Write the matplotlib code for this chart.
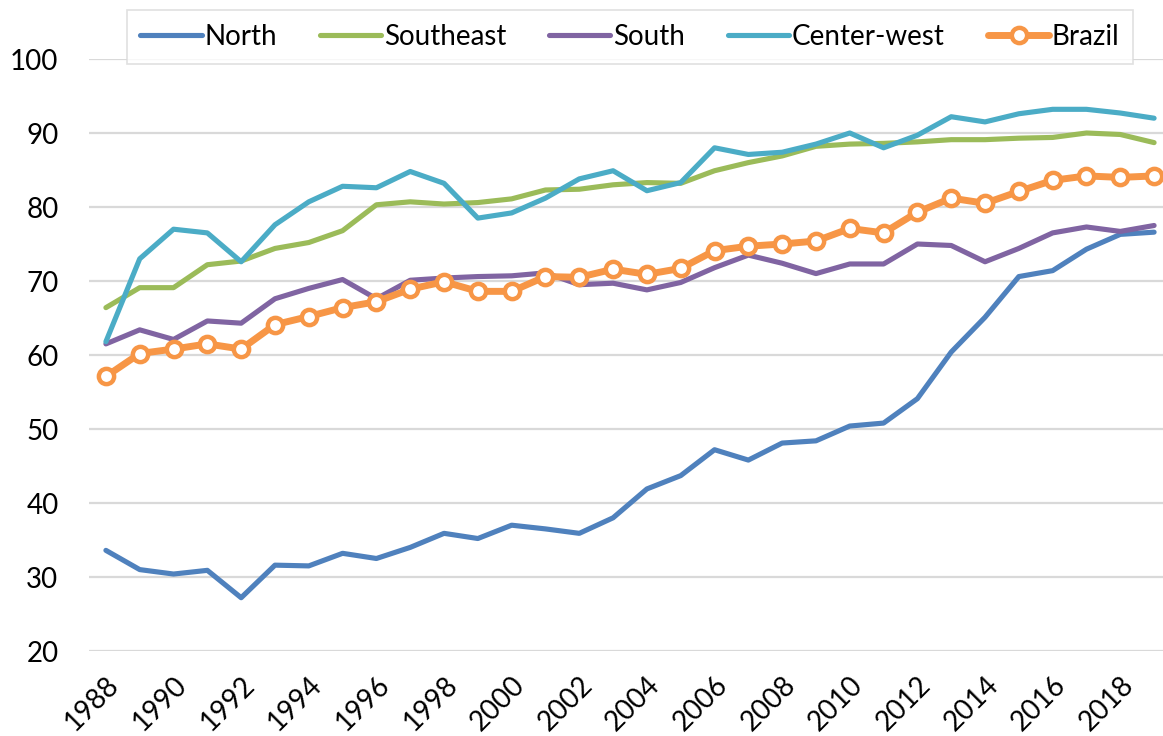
import matplotlib
matplotlib.use("Agg")
from matplotlib import pyplot as plt

plt.rcParams['font.family'] = ['Lato', 'DejaVu Sans']

years = list(range(1988, 2020))

north = [33.6, 31.0, 30.4, 30.9, 27.2, 31.6, 31.5, 33.2, 32.5, 34.0, 35.9, 35.2,
         37.0, 36.5, 35.9, 38.0, 41.9, 43.7, 47.2, 45.8, 48.1, 48.4, 50.4, 50.8,
         54.1, 60.4, 65.1, 70.6, 71.4, 74.3, 76.3, 76.6]
southeast = [66.4, 69.1, 69.1, 72.2, 72.7, 74.4, 75.2, 76.8, 80.3, 80.7, 80.4, 80.6,
             81.1, 82.3, 82.4, 83.0, 83.3, 83.2, 84.9, 86.0, 86.9, 88.2, 88.5, 88.6,
             88.8, 89.1, 89.1, 89.3, 89.4, 90.0, 89.8, 88.7]
south = [61.5, 63.4, 62.1, 64.6, 64.3, 67.6, 69.0, 70.2, 67.6, 70.1, 70.4, 70.6,
         70.7, 71.1, 69.5, 69.7, 68.8, 69.8, 71.8, 73.5, 72.4, 71.0, 72.3, 72.3,
         75.0, 74.8, 72.6, 74.4, 76.5, 77.3, 76.7, 77.5]
center_west = [61.8, 73.0, 77.0, 76.5, 72.6, 77.6, 80.7, 82.8, 82.6, 84.8, 83.2, 78.5,
               79.2, 81.2, 83.8, 84.9, 82.2, 83.3, 88.0, 87.1, 87.4, 88.5, 90.0, 88.0,
               89.7, 92.2, 91.5, 92.6, 93.2, 93.2, 92.7, 92.0]
brazil = [57.1, 60.2, 60.8, 61.5, 60.8, 64.1, 65.2, 66.4, 67.2, 68.9, 69.9, 68.6,
          68.6, 70.6, 70.5, 71.6, 70.9, 71.7, 74.1, 74.7, 75.0, 75.4, 77.1, 76.5,
          79.3, 81.2, 80.5, 82.1, 83.6, 84.2, 84.0, 84.2]

fig = plt.figure(figsize=(11.63, 7.36), dpi=100)
ax = fig.add_axes([89 / 1163, 85 / 736, (1171 - 89) / 1163, 592 / 736])

ax.plot(years, north, color='#4F81BD', lw=3.7, label='North', solid_capstyle='round')
ax.plot(years, southeast, color='#9BBB59', lw=3.7, label='Southeast', solid_capstyle='round')
ax.plot(years, south, color='#8064A2', lw=3.7, label='South', solid_capstyle='round')
ax.plot(years, center_west, color='#4BACC6', lw=3.7, label='Center-west', solid_capstyle='round')
ax.plot(years, brazil, color='#F79646', lw=5, label='Brazil', marker='o', ms=11,
        mfc='white', mec='#F79646', mew=3.2, solid_capstyle='round')

ax.set_xlim(1987.5, 2019.5)
ax.set_ylim(20, 100)
ax.set_yticks(range(20, 101, 10))
ax.set_xticks(years[::2])
ax.set_xticklabels([str(y) for y in years[::2]], rotation=45, ha='right',
                   va='top', rotation_mode='anchor')
ax.tick_params(axis='both', length=0, labelsize=20)
ax.tick_params(axis='y', pad=22)
ax.tick_params(axis='x', pad=15)
ax.grid(axis='y', color='#D9D9D9', lw=1.6)
ax.set_axisbelow(True)
for s in ax.spines.values():
    s.set_visible(False)

leg = fig.legend(loc='center', bbox_to_anchor=(630 / 1163, 1 - 37 / 736), ncol=5,
                 fontsize=20, frameon=True, fancybox=False, edgecolor='#D9D9D9',
                 handlelength=2.2, columnspacing=1.55, handletextpad=0.1,
                 borderpad=0.5)
leg.get_frame().set_linewidth(1.2)

plt.savefig('out.png', dpi=100)
